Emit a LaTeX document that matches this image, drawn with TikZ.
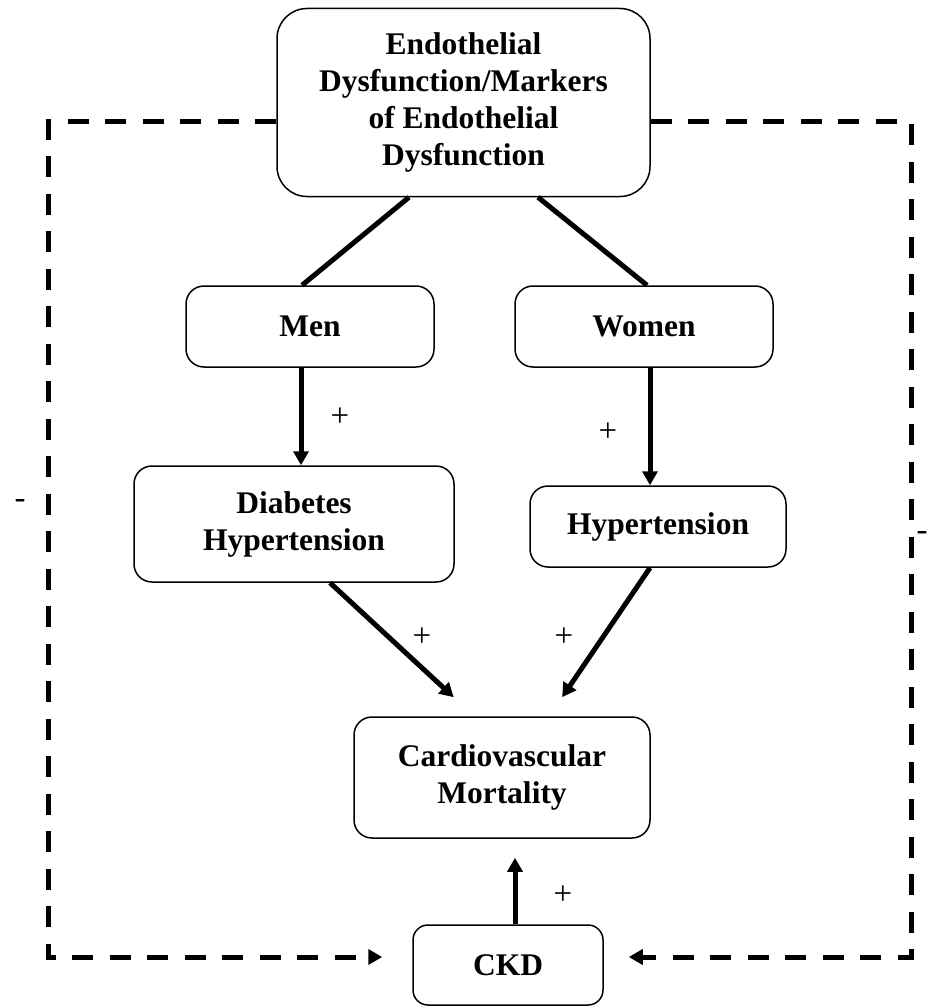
\documentclass[tikz,border=0pt]{standalone}
\usepackage{fontspec}
\setmainfont{Liberation Serif}
\usetikzlibrary{arrows.meta}

\begin{document}
\begin{tikzpicture}[x=1pt,y=-1pt,>={Triangle[length=14pt,width=15pt]}]
    \tikzstyle{box}=[draw,line width=1.5pt,rounded corners=18pt,align=center,inner sep=0pt,font=\fontsize{31.5}{37}\selectfont\bfseries]
    \tikzstyle{sign}=[inner sep=0pt,font=\fontsize{33}{40}\selectfont]
    \tikzstyle{link}=[line width=5pt]
    \tikzstyle{feedback}=[line width=5pt,dash pattern=on 21pt off 16.5pt]

    \useasboundingbox (0,0) rectangle (929,1006);

    % Draw the boxes
    \node[box,minimum width=373pt,minimum height=188pt,rounded corners=30pt] (top) at (463.5,102.5) {Endothelial\\Dysfunction/Markers\\of Endothelial\\Dysfunction};
    \node[box,minimum width=248pt,minimum height=81pt] (men) at (310,326.5) {Men};
    \node[box,minimum width=258pt,minimum height=81pt] (women) at (644,326.5) {Women};
    \node[box,minimum width=320pt,minimum height=116pt] (diab) at (294,524) {Diabetes\\Hypertension};
    \node[box,minimum width=256pt,minimum height=81pt] (hyp) at (658,526.5) {Hypertension};
    \node[box,minimum width=296pt,minimum height=121pt] (cvm) at (502,777.5) {Cardiovascular\\Mortality};
    \node[box,minimum width=190pt,minimum height=80pt,rounded corners=15pt] (ckd) at (508,965) {CKD};

    % Connect them
    \draw[link] ([xshift=-54.5pt]top.south) -- ([xshift=-8pt]men.north);
    \draw[link] ([xshift=74.5pt]top.south) -- ([xshift=3pt]women.north);
    \draw[link,->] ([xshift=-9pt]men.south) -- ([xshift=-9pt]men.south |- diab.north);
    \draw[link,->] ([xshift=6pt]women.south) -- ([xshift=6pt]women.south |- hyp.north);
    \draw[link,->,shorten >=28pt] ([xshift=36pt]diab.south) -- ([xshift=-27.7pt]cvm.north);
    \draw[link,->,shorten >=23pt] ([xshift=-8pt]hyp.south) -- ([xshift=47.2pt]cvm.north);
    \draw[link,->,shorten >=19pt] ([xshift=7pt]ckd.north) -- ([xshift=7pt]ckd.north |- cvm.south);

    % Feedback loop round the sides
    \coordinate (L) at (48,0);
    \coordinate (R) at (911,0);
    \draw[feedback,->] ([yshift=-19.5pt]top.west) -- ([yshift=-19.5pt]top.west -| L) -- ([yshift=8pt]ckd.west -| L) -- ([xshift=-30pt,yshift=8pt]ckd.west);
    \draw[feedback,->] ([yshift=-19.5pt]top.east) -- ([yshift=-19.5pt]top.east -| R) -- ([yshift=8pt]ckd.east -| R) -- ([xshift=25pt,yshift=8pt]ckd.east);

    % Signs
    \node[sign] (p1) at (340,417) {+};
    \node[sign] (p2) at (608,432) {+};
    \node[sign] (p3) at (422,637) {+};
    \node[sign] (p4) at (564,637) {+};
    \node[sign] (p5) at (563,895) {+};
    \node[sign] (m1) at (20,504) {-};
    \node[sign] (m2) at (922,536) {-};
\end{tikzpicture}
\end{document}
